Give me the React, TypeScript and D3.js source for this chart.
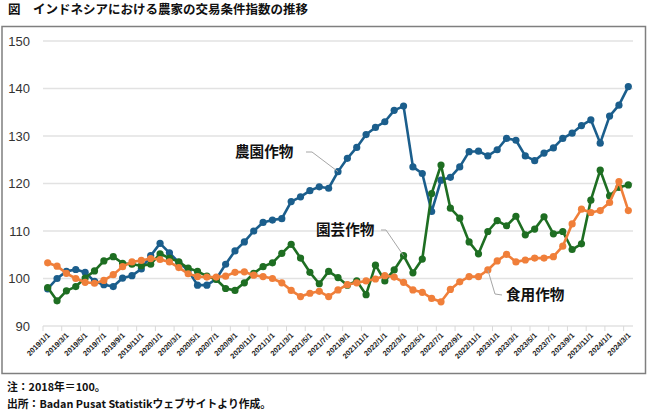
import React from "react";
import * as d3 from "d3";

const title = "図　インドネシアにおける農家の交易条件指数の推移";
const note1 = "注：2018年＝100。";
const note2 = "出所：Badan Pusat Statistikウェブサイトより作成。";

const startYear = 2019;
const monthCount = 63; // 2019/1 .. 2024/3
const yTicks = [90, 100, 110, 120, 130, 140, 150];

const plantation = [
  97.8, 100.0, 101.5, 101.9, 101.3, 99.4, 98.7, 98.3, 100.1, 100.6, 102.0, 104.8,
  107.4, 105.4, 103.4, 101.7, 98.6, 98.6, 99.9, 103.0, 105.8, 107.7, 110.0, 111.8,
  112.3, 112.6, 116.2, 117.2, 118.5, 119.3, 119.0, 122.5, 125.3, 127.6, 130.3, 131.8,
  133.0, 135.4, 136.3, 123.5, 122.1, 114.1, 120.7, 121.3, 123.5, 126.7, 126.8, 125.8,
  127.1, 129.5, 129.1, 125.8, 124.8, 126.4, 127.5, 129.5, 130.6, 132.2, 133.4, 128.5,
  134.2, 136.5, 140.4,
];
const horticulture = [
  98.1, 95.3, 97.4, 98.3, 100.1, 101.6, 103.7, 104.6, 103.2, 103.0, 102.7, 103.0,
  105.2, 104.3, 103.5, 102.2, 101.5, 100.5, 99.8, 97.9, 97.5, 99.1, 101.1, 102.5,
  103.3, 105.3, 107.2, 104.3, 101.3, 98.9, 101.5, 100.2, 98.6, 99.5, 96.6, 102.8,
  99.5, 101.8, 104.8, 101.2, 104.1, 117.9, 123.9, 114.8, 112.7, 107.7, 105.2, 109.9,
  112.2, 111.1, 113.1, 109.2, 110.4, 113.0, 109.4, 109.9, 106.1, 107.3, 116.5, 122.8,
  117.4, 119.2, 119.7,
];
const foodCrops = [
  103.3, 102.6, 101.1, 100.0, 99.2, 99.0, 99.6, 100.8, 102.5, 103.5, 103.8, 104.2,
  104.0, 103.5, 102.3, 101.0, 100.4, 100.3, 100.3, 100.5, 101.3, 101.4, 100.7, 100.4,
  100.0, 99.1, 97.5, 96.2, 96.9, 97.3, 96.2, 97.6, 98.7, 99.1, 99.5, 99.9,
  100.6, 100.3, 99.2, 97.6, 97.1, 95.8, 95.1, 97.7, 99.3, 100.4, 100.4, 101.8,
  103.7, 105.1, 103.5, 103.9, 104.3, 104.3, 104.6, 106.8, 111.5, 114.6, 113.9, 114.3,
  116.0, 120.4, 114.3,
];

const seriesNames = ["農園作物", "園芸作物", "食用作物"];
const seriesColors = ["#1b5e8c", "#1e6e22", "#f07f3a"];

const categories: string[] = d3.range(monthCount).map((i) => {
  const y = startYear + Math.floor(i / 12);
  const m = (i % 12) + 1;
  return `${y}/${m}/1`;
});

export default function App() {
  const W = 650;
  const H = 410;
  const x = d3
    .scaleBand<string>()
    .domain(categories)
    .range([43, 633])
    .paddingInner(0)
    .paddingOuter(0);
  const cx = (i: number) => (x(categories[i]) as number) + x.bandwidth() / 2;
  const y = d3.scaleLinear().domain([90, 150]).range([326, 41]);

  const line = d3
    .line<number>()
    .x((_, i) => cx(i))
    .y((d) => y(d));

  const allSeries = [plantation, horticulture, foodCrops];
  const labelIdx = categories.map((_, i) => i).filter((i) => i % 2 === 0);

  const jp = "'Noto Sans CJK JP', 'Noto Sans', sans-serif";
  const lat = "'Liberation Sans', Arial, sans-serif";

  const annPlant = { i: 31, v: plantation[31] };
  const annHort = { i: 38, v: horticulture[38] };
  const annFood = { i: 47, v: foodCrops[47] };

  return (
    <div style={{ position: "absolute", left: 0, top: 0 }}>
      <svg width={W} height={H} style={{ display: "block", background: "#fff" }}>
        <text x={8} y={14} fontFamily={jp} fontWeight={700} fontSize={12.5} fill="#111">
          {title}
        </text>
        <rect x={2} y={26.5} width={643.5} height={347} fill="#fff" stroke="#7f7f7f" strokeWidth={1.5} />

        {yTicks.map((t) => (
          <g key={t}>
            <line x1={43} x2={633} y1={y(t)} y2={y(t)} stroke="#e2e2e2" strokeWidth={1.5} />
            <text x={30} y={y(t)} dy="0.36em" textAnchor="end" fontFamily={lat} fontSize={13} fill="#333">
              {t}
            </text>
          </g>
        ))}
        {d3.range(0, monthCount + 1, 2).map((k) => {
          const xx = 43 + k * x.bandwidth();
          return <line key={k} x1={xx} x2={xx} y1={326} y2={331} stroke="#d9d9d9" strokeWidth={1} />;
        })}
        {labelIdx.map((i) => (
          <text
            key={i}
            transform={`translate(${cx(i) + 1},${334}) rotate(-45)`}
            textAnchor="end"
            dy="0.35em"
            fontFamily={lat}
            fontWeight={700}
            fontSize={7.5}
            fill="#222"
          >
            {categories[i]}
          </text>
        ))}

        {allSeries.map((s, si) => (
          <g key={si}>
            <path d={line(s) as string} fill="none" stroke={seriesColors[si]} strokeWidth={2.6} strokeLinejoin="round" />
            {s.map((v, i) => (
              <circle key={i} cx={cx(i)} cy={y(v)} r={3.6} fill={seriesColors[si]} />
            ))}
          </g>
        ))}

        <polyline
          points={`306,152 312,152 ${cx(annPlant.i)},${y(annPlant.v)}`}
          fill="none"
          stroke="#a6a6a6"
          strokeWidth={1}
        />
        <text x={235} y={152} dy="0.36em" fontFamily={jp} fontWeight={700} fontSize={14.6} fill="#111">
          {seriesNames[0]}
        </text>
        <polyline
          points={`381,230 386,230 ${cx(annHort.i)},${y(annHort.v)}`}
          fill="none"
          stroke="#a6a6a6"
          strokeWidth={1}
        />
        <text x={316} y={230} dy="0.36em" fontFamily={jp} fontWeight={700} fontSize={14.6} fill="#111">
          {seriesNames[1]}
        </text>
        <polyline
          points={`${cx(annFood.i)},${y(annFood.v)} 495,294 502,295`}
          fill="none"
          stroke="#a6a6a6"
          strokeWidth={1}
        />
        <text x={506} y={295} dy="0.36em" fontFamily={jp} fontWeight={700} fontSize={14.6} fill="#111">
          {seriesNames[2]}
        </text>

        <text x={7} y={387} dy="0.36em" fontFamily={jp} fontWeight={700} fontSize={10.8} fill="#111">
          {note1}
        </text>
        <text x={7} y={404} dy="0.36em" fontFamily={jp} fontWeight={700} fontSize={10.8} fill="#111">
          {note2}
        </text>
      </svg>
    </div>
  );
}
